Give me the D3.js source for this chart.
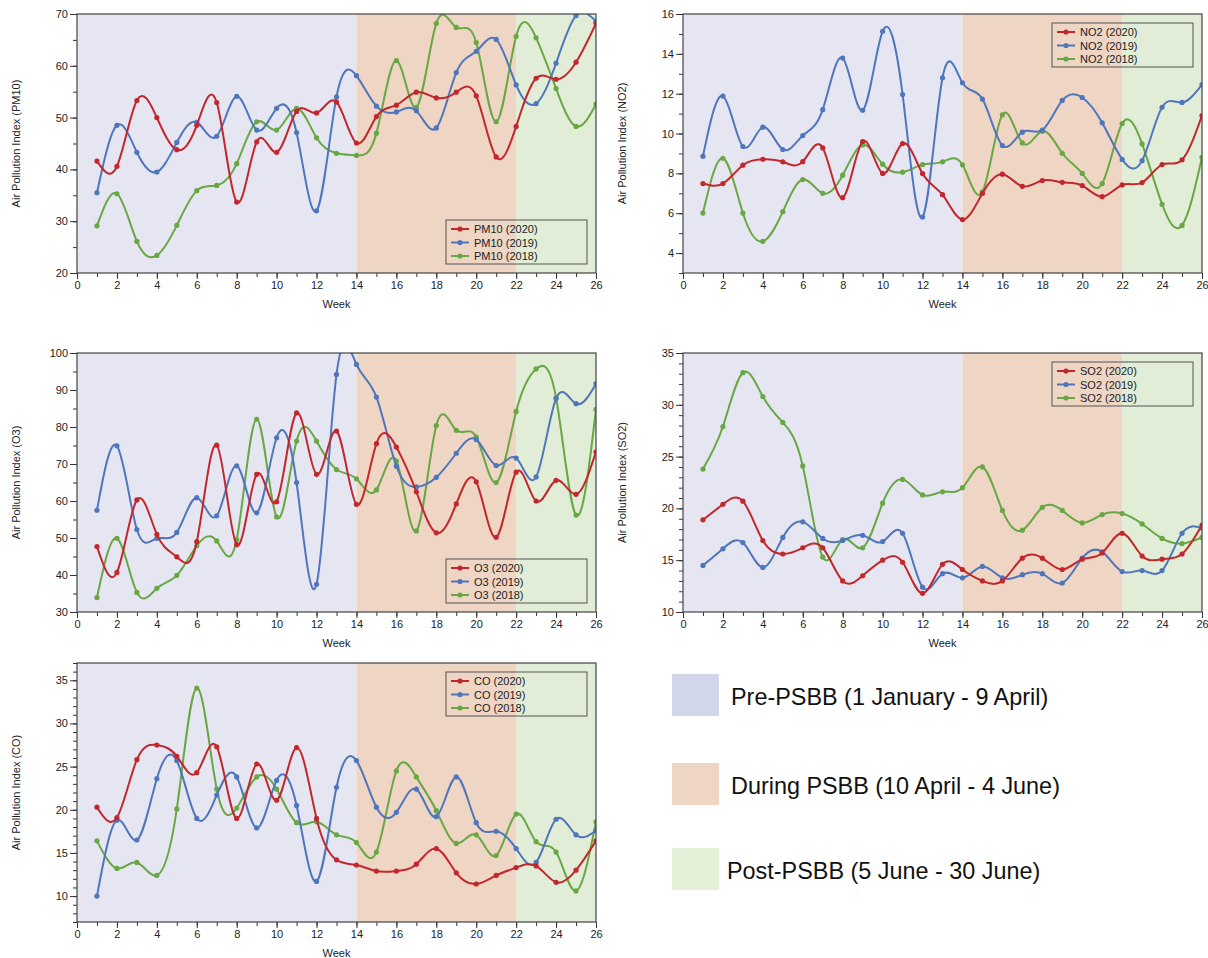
<!DOCTYPE html>
<html>
<head>
<meta charset="utf-8">
<script src="https://cdn.jsdelivr.net/npm/d3@7"></script>
<style>
  body { margin: 0; background: #fff; }
  svg { display: block; font-family: "Liberation Sans", Arial, Helvetica, sans-serif; }
  .axis path, .axis line { stroke: #333; }
  .axis text { fill: #222; font-size: 11px; }
</style>
</head>
<body>
<svg id="chart" width="1208" height="958"></svg>
<script>
// weekly values
const weeks = [1,2,3,4,5,6,7,8,9,10,11,12,13,14,15,16,17,18,19,20,21,22,23,24,25,26];

const pm10_2020 = [41.6,40.6,53.3,50.0,43.8,48.5,52.9,33.7,45.3,43.3,51.2,50.9,53.0,45.1,50.2,52.4,54.9,53.8,54.9,54.2,42.4,48.3,57.6,57.4,60.7,68.2];
const pm10_2019 = [35.5,48.5,43.3,39.5,45.2,49.1,46.4,54.1,47.6,51.8,47.1,32.0,54.0,58.1,52.2,51.1,51.3,48.0,58.7,62.8,65.1,56.3,52.7,60.5,69.7,68.6];
const pm10_2018 = [29.1,35.3,26.1,23.4,29.2,35.9,36.9,41.1,49.2,47.6,51.8,46.1,43.1,42.7,47.0,61.0,52.0,68.2,67.4,64.5,49.2,65.7,65.4,55.6,48.3,52.6];

const no2_2020 = [7.49,7.49,8.41,8.71,8.58,8.59,9.28,6.78,9.6,8.0,9.5,7.99,6.93,5.68,7.0,7.96,7.35,7.64,7.55,7.39,6.83,7.42,7.54,8.44,8.68,10.9];
const no2_2019 = [8.86,11.88,9.35,10.32,9.2,9.9,11.2,13.79,11.17,15.13,11.96,5.81,12.8,12.55,11.73,9.4,10.07,10.17,11.66,11.81,10.54,8.7,8.64,11.32,11.56,12.46];
const no2_2018 = [6.01,8.76,6.01,4.59,6.08,7.69,7.0,7.91,9.43,8.46,8.06,8.44,8.58,8.43,7.07,10.94,9.53,10.12,9.01,8.0,7.49,10.5,9.48,6.45,5.39,8.81];

const o3_2020 = [47.7,40.7,60.3,51.0,44.9,49.0,75.1,48.2,67.2,59.8,83.8,67.2,78.9,59.1,75.5,74.6,62.5,51.4,59.2,65.2,50.2,67.8,60.0,65.6,61.8,73.3];
const o3_2019 = [57.5,74.9,52.3,49.9,51.5,60.9,56.0,69.5,56.8,77.1,65.0,37.5,94.2,96.9,88.1,69.4,63.8,66.4,72.9,76.6,69.6,71.6,66.5,87.7,86.3,91.7];
const o3_2018 = [33.9,49.9,35.3,36.4,39.9,47.9,49.2,49.6,82.1,55.7,76.2,76.2,68.5,66.0,63.0,70.8,51.9,80.4,79.1,77.3,65.0,84.2,95.7,87.9,56.2,84.8];

const so2_2020 = [18.9,20.4,20.7,16.9,15.6,16.2,16.2,13.0,13.5,15.0,14.8,11.8,14.6,14.1,13.0,13.0,15.2,15.2,14.1,15.1,15.7,17.6,15.4,15.1,15.6,18.4];
const so2_2019 = [14.5,16.1,16.7,14.3,17.2,18.7,17.1,16.9,17.4,16.8,17.6,12.4,13.7,13.3,14.4,13.3,13.6,13.7,12.8,15.2,15.8,13.9,14.0,14.0,17.6,18.1];
const so2_2018 = [23.8,27.9,33.1,30.8,28.3,24.1,15.3,17.0,16.2,20.5,22.8,21.3,21.6,22.0,24.0,19.8,17.9,20.1,19.8,18.6,19.4,19.5,18.5,17.1,16.6,17.2];

const co_2020 = [20.3,19.1,25.8,27.5,26.2,24.3,27.3,19.0,25.3,21.1,27.2,19.0,14.2,13.6,12.9,12.9,13.7,15.5,12.7,11.4,12.4,13.3,13.5,11.6,13.0,16.4];
const co_2019 = [10.0,18.8,16.5,23.6,25.7,19.0,21.7,23.8,17.9,23.4,20.5,11.7,22.6,25.7,20.3,19.7,22.4,19.2,23.8,18.5,17.5,15.5,13.9,18.9,17.1,17.6];
const co_2018 = [16.4,13.2,13.9,12.4,20.1,34.1,22.4,20.2,23.8,22.4,18.5,18.6,17.1,16.2,15.1,24.5,23.8,19.9,16.1,17.1,14.7,19.5,16.3,15.1,10.6,18.6];

const years = ['2020','2019','2018'];
const yearColors = ['#c1272d','#4f76bb','#68a744'];

// PSBB periods (week ranges)
const periodNames = ['Pre-PSBB (1 January - 9 April)','During PSBB (10 April - 4 June)','Post-PSBB (5 June - 30 June)'];
const periodStart = [0,14,22];
const periodEnd = [14,22,26];
const periodFill = ['#e6e6f2','#efd5c4','#e1edd6'];
const periodSwatch = ['#d1d6eb','#efd5c4','#e3efd6'];

const panels = [
  {name:'PM10', series:[pm10_2020,pm10_2019,pm10_2018], y:[20,70], major:10, minor:5,
   left:77, top:14, legend:'bottomright'},
  {name:'NO2', series:[no2_2020,no2_2019,no2_2018], y:[3,16], major:2, minor:1,
   left:683, top:14, legend:'topright'},
  {name:'O3', series:[o3_2020,o3_2019,o3_2018], y:[30,100], major:10, minor:5,
   left:77, top:353, legend:'bottomright'},
  {name:'SO2', series:[so2_2020,so2_2019,so2_2018], y:[10,35], major:5, minor:1,
   left:683, top:353, legend:'topright'},
  {name:'CO', series:[co_2020,co_2019,co_2018], y:[7,37], major:5, minor:1,
   left:77, top:663, legend:'topright'}
];

const plotW = 519, plotH = 259;
const svg = d3.select('#chart');

panels.forEach((p, pi) => {
  const g = svg.append('g').attr('transform', `translate(${p.left},${p.top})`);
  const x = d3.scaleLinear().domain([0,26]).range([0,plotW]);
  const y = d3.scaleLinear().domain(p.y).range([plotH,0]);

  // background bands
  g.selectAll('rect.band')
    .data(periodStart)
    .enter()
    .append('rect')
      .attr('class','band')
      .attr('x', (d,i)=>x(d))
      .attr('width', (d,i)=>x(periodEnd[i]) - x(d))
      .attr('y', 0)
      .attr('height', plotH)
      .attr('fill', (d,i)=>periodFill[i]);

  const clipId = 'clip' + pi;
  g.append('clipPath').attr('id', clipId)
    .append('rect').attr('width', plotW).attr('height', plotH);

  const lines = g.append('g').attr('clip-path', `url(#${clipId})`);
  const line = d3.line()
    .x((d,i)=>x(weeks[i]))
    .y(d=>y(d))
    .curve(d3.curveNatural);

  // draw 2018 first so 2020 sits on top
  [2,1,0].forEach(k => {
    const vals = p.series[k];
    lines.append('path')
      .datum(vals)
      .attr('d', line)
      .attr('fill','none')
      .attr('stroke', yearColors[k])
      .attr('stroke-width', 2);
    lines.selectAll('circle.s' + k)
      .data(vals)
      .enter()
      .append('circle')
        .attr('class','s' + k)
        .attr('cx', (d,i)=>x(weeks[i]))
        .attr('cy', d=>y(d))
        .attr('r', 2.6)
        .attr('fill', yearColors[k]);
  });

  // axes: major labelled ticks, minor unlabelled
  const xMinor = d3.axisBottom(x).tickValues(d3.range(0,27,1)).tickSize(4).tickFormat('');
  const xMajor = d3.axisBottom(x).tickValues(d3.range(0,27,2)).tickSize(6).tickPadding(2);
  g.append('g').attr('class','axis').attr('transform',`translate(0,${plotH})`).call(xMinor);
  g.append('g').attr('class','axis').attr('transform',`translate(0,${plotH})`).call(xMajor);

  const yMinor = d3.axisLeft(y).tickValues(d3.range(p.y[0], p.y[1]+0.001, p.minor)).tickSize(4).tickFormat('');
  const firstMajor = Math.ceil(p.y[0]/p.major)*p.major;
  const yMajor = d3.axisLeft(y).tickValues(d3.range(firstMajor, p.y[1]+0.001, p.major)).tickSize(7).tickPadding(2);
  g.append('g').attr('class','axis').call(yMinor);
  g.append('g').attr('class','axis').call(yMajor);
  g.selectAll('.axis path.domain').remove();

  // frame
  g.append('rect')
    .attr('width', plotW).attr('height', plotH)
    .attr('fill','none').attr('stroke','#444').attr('stroke-width',1.2);

  // titles
  g.append('text')
    .attr('x', plotW/2).attr('y', plotH + 35)
    .attr('text-anchor','middle').attr('font-size',11).attr('fill','#222')
    .text('Week');
  g.append('text')
    .attr('transform', `translate(-57,${plotH/2}) rotate(-90)`)
    .attr('text-anchor','middle').attr('font-size',11).attr('fill','#222')
    .text(`Air Pollution Index (${p.name})`);

  // series legend
  const lw = 141, lh = 44;
  const lx = plotW - 150;
  const ly = p.legend === 'bottomright' ? plotH - 53 : 9;
  const leg = g.append('g').attr('transform', `translate(${lx},${ly})`);
  leg.append('rect').attr('width', lw).attr('height', lh)
    .attr('fill','none').attr('stroke','#555').attr('stroke-width',1);
  years.forEach((yr, k) => {
    const row = leg.append('g').attr('transform', `translate(5,${9 + k*13.5})`);
    row.append('line').attr('x1',0).attr('x2',18).attr('y1',0).attr('y2',0)
      .attr('stroke', yearColors[k]).attr('stroke-width',2);
    row.append('circle').attr('cx',9).attr('cy',0).attr('r',2.6).attr('fill',yearColors[k]);
    row.append('text').attr('x',23).attr('y',4).attr('font-size',11).attr('fill','#222')
      .text(`${p.name} (${yr})`);
  });
});

// period legend
const pl = svg.append('g');
const plY = [674,763,848];
pl.selectAll('rect')
  .data(periodNames)
  .enter()
  .append('rect')
    .attr('x', 672).attr('y', (d,i)=>plY[i])
    .attr('width', 47).attr('height', 42)
    .attr('fill', (d,i)=>periodSwatch[i]);
pl.selectAll('text')
  .data(periodNames)
  .enter()
  .append('text')
    .attr('x', (d,i)=> i===2 ? 727 : 731)
    .attr('y', (d,i)=>plY[i] + 31)
    .attr('font-size', 23.4).attr('fill','#111')
    .text(d=>d);
</script>
</body>
</html>
